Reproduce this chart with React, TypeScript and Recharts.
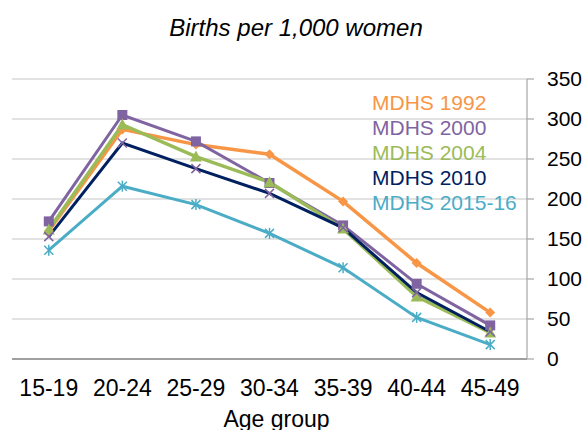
import React from "react";
import {
  LineChart,
  Line,
  XAxis,
  YAxis,
  CartesianGrid,
  Legend,
} from "recharts";

const ageGroups = ["15-19", "20-24", "25-29", "30-34", "35-39", "40-44", "45-49"];
const mdhs1992 = [160, 287, 268, 256, 197, 120, 58];
const mdhs2000 = [172, 305, 272, 220, 167, 94, 42];
const mdhs2004 = [162, 293, 253, 221, 163, 78, 33];
const mdhs2010 = [153, 270, 238, 207, 164, 83, 34];
const mdhs2015 = [136, 216, 193, 157, 114, 52, 18];
const yTicks = [0, 50, 100, 150, 200, 250, 300, 350];

const data = ageGroups.map((age, i) => ({
  age,
  s1992: mdhs1992[i],
  s2000: mdhs2000[i],
  s2004: mdhs2004[i],
  s2010: mdhs2010[i],
  s2015: mdhs2015[i],
}));

const FONT = "'Liberation Sans', Arial, sans-serif";

type DotProps = { cx?: number; cy?: number; index?: number };

function Diamond({ cx = 0, cy = 0, index }: DotProps) {
  const r = 5;
  return (
    <polygon
      key={"d" + index}
      points={`${cx},${cy - r} ${cx + r},${cy} ${cx},${cy + r} ${cx - r},${cy}`}
      fill="#F79646"
    />
  );
}

function Square({ cx = 0, cy = 0, index }: DotProps) {
  return <rect key={"s" + index} x={cx - 5} y={cy - 5} width={10} height={10} fill="#8064A2" />;
}

function Triangle({ cx = 0, cy = 0, index }: DotProps) {
  return (
    <polygon
      key={"t" + index}
      points={`${cx},${cy - 6} ${cx + 6},${cy + 5} ${cx - 6},${cy + 5}`}
      fill="#9BBB59"
    />
  );
}

function Cross({ cx = 0, cy = 0, index }: DotProps) {
  const r = 4.5;
  return (
    <g key={"x" + index} stroke="#8064A2" strokeWidth={1.5}>
      <line x1={cx - r} y1={cy - r} x2={cx + r} y2={cy + r} />
      <line x1={cx - r} y1={cy + r} x2={cx + r} y2={cy - r} />
    </g>
  );
}

function Star({ cx = 0, cy = 0, index }: DotProps) {
  const r = 4.5;
  return (
    <g key={"a" + index} stroke="#4BACC6" strokeWidth={1.5}>
      <line x1={cx - r} y1={cy - r} x2={cx + r} y2={cy + r} />
      <line x1={cx - r} y1={cy + r} x2={cx + r} y2={cy - r} />
      <line x1={cx} y1={cy - r - 1} x2={cx} y2={cy + r + 1} />
    </g>
  );
}

// legend is just coloured text, one line per survey
function TextLegend({ payload }: { payload?: { value: string; color: string }[] }) {
  if (!payload) return null;
  return (
    <div style={{ fontFamily: FONT, fontSize: 21, lineHeight: "25px" }}>
      {payload.map((p) => (
        <div key={p.value} style={{ color: p.color, whiteSpace: "nowrap" }}>
          {p.value}
        </div>
      ))}
    </div>
  );
}

export default function App() {
  return (
    <div style={{ position: "absolute", left: 0, top: 0, width: 587, height: 430, background: "#fff" }}>
      <div
        style={{
          position: "absolute",
          left: 0,
          top: 16,
          width: 592,
          textAlign: "center",
          fontFamily: FONT,
          fontStyle: "italic",
          fontSize: 24,
          lineHeight: "24px",
          color: "#000",
        }}
      >
        Births per 1,000 women
      </div>
      <LineChart
        width={587}
        height={430}
        data={data}
        margin={{ top: 79, right: 0, bottom: 0, left: 12 }}
        style={{ fontFamily: FONT }}
      >
        <CartesianGrid vertical={false} stroke="#C6C6C6" strokeWidth={1.2} />
        <XAxis
          dataKey="age"
          scale="band"
          height={71}
          tickLine={false}
          tickSize={0}
          tickMargin={21}
          interval={0}
          axisLine={{ stroke: "#8A8A8A", strokeWidth: 1.5 }}
          tick={{ fill: "#000", fontSize: 23 }}
          label={{ value: "Age group", position: "insideBottom", offset: 3, dx: 7, fill: "#000", fontSize: 23 }}
        />
        <YAxis
          orientation="right"
          width={60}
          domain={[0, 350]}
          ticks={yTicks}
          interval={0}
          tickSize={7}
          tickMargin={13}
          axisLine={{ stroke: "#A6A6A6", strokeWidth: 1.2 }}
          tickLine={{ stroke: "#A6A6A6", strokeWidth: 1.2 }}
          tick={{ fill: "#000", fontSize: 21, textAnchor: "start" }}
        />
        <Legend
          layout="vertical"
          align="center"
          verticalAlign="middle"
          content={<TextLegend />}
          wrapperStyle={{ position: "absolute", left: 372, top: 90, width: 170 }}
        />
        <Line
          name="MDHS 1992"
          dataKey="s1992"
          stroke="#F79646"
          strokeWidth={3.5}
          dot={Diamond}
          activeDot={false}
          isAnimationActive={false}
        />
        <Line
          name="MDHS 2000"
          dataKey="s2000"
          stroke="#8064A2"
          strokeWidth={3}
          dot={Square}
          activeDot={false}
          isAnimationActive={false}
        />
        <Line
          name="MDHS 2004"
          dataKey="s2004"
          stroke="#9BBB59"
          strokeWidth={3.5}
          dot={Triangle}
          activeDot={false}
          isAnimationActive={false}
        />
        <Line
          name="MDHS 2010"
          dataKey="s2010"
          stroke="#002060"
          strokeWidth={3}
          dot={Cross}
          activeDot={false}
          isAnimationActive={false}
        />
        <Line
          name="MDHS 2015-16"
          dataKey="s2015"
          stroke="#4BACC6"
          strokeWidth={3}
          dot={Star}
          activeDot={false}
          isAnimationActive={false}
        />
      </LineChart>
    </div>
  );
}
